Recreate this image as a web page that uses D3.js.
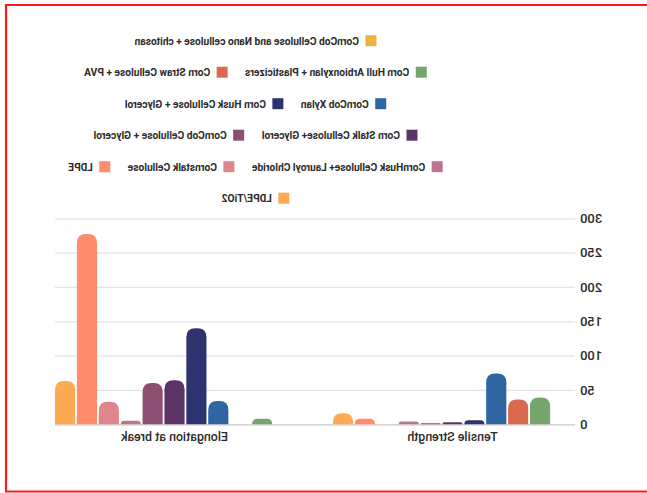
<!DOCTYPE html>
<html>
<head>
<meta charset="utf-8">
<script src="https://cdn.jsdelivr.net/npm/d3@7"></script>
<style>
  html, body { margin: 0; padding: 0; background: #fff; }
  svg { display: block; }
  text { font-family: Roboto, "Noto Sans", sans-serif; fill: #2b2b2b; }
</style>
</head>
<body>
<svg id="chart" width="647" height="493"></svg>
<script>
// Property groups on the x axis
const categories = ["Tensile Strength", "Elongation at break"];

// Materials, in legend order
const seriesNames = [
  "CornCob Cellulose and Nano cellulose + chitosan",
  "Corn Hull Arbionxylan + Plasticizers",
  "Corn Straw Cellulose + PVA",
  "CornCob Xylan",
  "Corn Husk Cellulose + Glycerol",
  "Corn Stalk Cellulose+ Glycerol",
  "CornCob Cellulose + Glycerol",
  "CornHusk Cellulose+ Lauroyl Chloride",
  "Cornstalk Cellulose",
  "LDPE",
  "LDPE/TiO2"
];

const seriesColors = [
  "#eeb33f", "#76a66c", "#d96a50", "#2f66a2", "#2c336e", "#5d3467",
  "#8c4f72", "#bb7390", "#e0858c", "#ff8c6b", "#fdaa52"
];

// Values per material: [Tensile Strength, Elongation at break]
const tensileValues    = [0, 39, 36, 74, 6, 3, 1.5, 4, 0, 8, 16];
const elongationValues = [0, 8, 0, 34, 140, 64, 60, 5, 33, 277, 63];

const yTicks = [0, 50, 100, 150, 200, 250, 300];

const W = 647, H = 493;
const svg = d3.select("#chart");

// Frame
svg.append("path")
  .attr("d", `M ${W + 5} 5 H 6 V 491.5 H ${W + 5}`)
  .attr("fill", "none")
  .attr("stroke", "#ff1a1a")
  .attr("stroke-width", 2.2);

// The whole chart is laid out and then shown reflected left-to-right
const g = svg.append("g").attr("transform", `translate(${W},0) scale(-1,1)`);

const plot = { left: 75, right: 592, top: 218.3, bottom: 424.3 };

const y = d3.scaleLinear().domain([0, 300]).range([plot.bottom, plot.top]);
const x0 = d3.scaleBand().domain(categories).range([plot.left, plot.right])
  .paddingInner(0.14).paddingOuter(0);
const x1 = d3.scaleBand().domain(seriesNames).range([0, x0.bandwidth()])
  .paddingInner(0.08).paddingOuter(0);

// Gridlines and value axis
const yAxis = d3.axisLeft(y).tickValues(yTicks).tickSize(-(plot.right - 72)).tickPadding(5);
const ya = g.append("g").attr("transform", `translate(72,0)`).call(yAxis);
ya.select(".domain").remove();
ya.selectAll(".tick line")
  .attr("stroke", d => d === 0 ? "#c9c9c9" : "#e3e3e3")
  .attr("stroke-width", 1.2);
ya.selectAll(".tick text")
  .attr("x", -5)
  .style("font-size", "13px")
  .style("font-weight", "500")
  .style("font-family", "Roboto, sans-serif")
  .attr("fill", "#2b2b2b");

// Category axis labels
const xAxis = d3.axisBottom(x0).tickSize(0).tickPadding(8);
const xa = g.append("g").attr("transform", `translate(0,${plot.bottom})`).call(xAxis);
xa.select(".domain").remove();
xa.selectAll(".tick text")
  .style("font-size", "12.4px")
  .style("font-weight", "500")
  .style("font-family", "Roboto, sans-serif")
  .attr("fill", "#2b2b2b");

// Bars with rounded tops
function barPath(x, yTop, w, yBase) {
  const h = yBase - yTop;
  if (h <= 0) return "";
  const r = Math.min(9, w / 2, h);
  return `M ${x} ${yBase} V ${yTop + r} Q ${x} ${yTop} ${x + r} ${yTop} H ${x + w - r} Q ${x + w} ${yTop} ${x + w} ${yTop + r} V ${yBase} Z`;
}

const valuesByCategory = {
  "Tensile Strength": tensileValues,
  "Elongation at break": elongationValues
};

const groups = g.append("g").selectAll("g")
  .data(categories)
  .join("g")
  .attr("transform", d => `translate(${x0(d)},0)`);

groups.selectAll("path")
  .data(cat => seriesNames.map((s, i) => ({ s, i, v: valuesByCategory[cat][i] })))
  .join("path")
  .attr("fill", d => seriesColors[d.i])
  .attr("d", d => barPath(x1(d.s), y(d.v), x1.bandwidth(), y(0)));

// Legend: centred rows that wrap
const legendCenter = 391.5, legendMax = 405, rowTop = 40.7, rowStep = 31.5;
const sw = 11, swGap = 6.5, itemGap = 17.5;
const lg = g.append("g");
const items = seriesNames.map((name, i) => {
  const t = lg.append("text").text(name)
    .style("font-size", "10.2px").style("font-weight", "700");
  const tw = t.node().getComputedTextLength();
  return { name, i, t, tw, w: sw + swGap + tw };
});
const rows = [];
let cur = [], curW = 0;
items.forEach(it => {
  const add = cur.length ? itemGap + it.w : it.w;
  if (cur.length && curW + add > legendMax) { rows.push(cur); cur = []; curW = 0; }
  curW += cur.length ? itemGap + it.w : it.w;
  cur.push(it);
});
if (cur.length) rows.push(cur);
rows.forEach((row, r) => {
  const total = d3.sum(row, d => d.w) + itemGap * (row.length - 1);
  let xPos = legendCenter - total / 2;
  const cy = rowTop + r * rowStep;
  row.forEach(it => {
    lg.append("rect").attr("x", xPos).attr("y", cy - sw / 2)
      .attr("width", sw).attr("height", sw).attr("fill", seriesColors[it.i]);
    it.t.attr("x", xPos + sw + swGap).attr("y", cy + 3.8);
    xPos += it.w + itemGap;
  });
});
</script>
</body>
</html>
